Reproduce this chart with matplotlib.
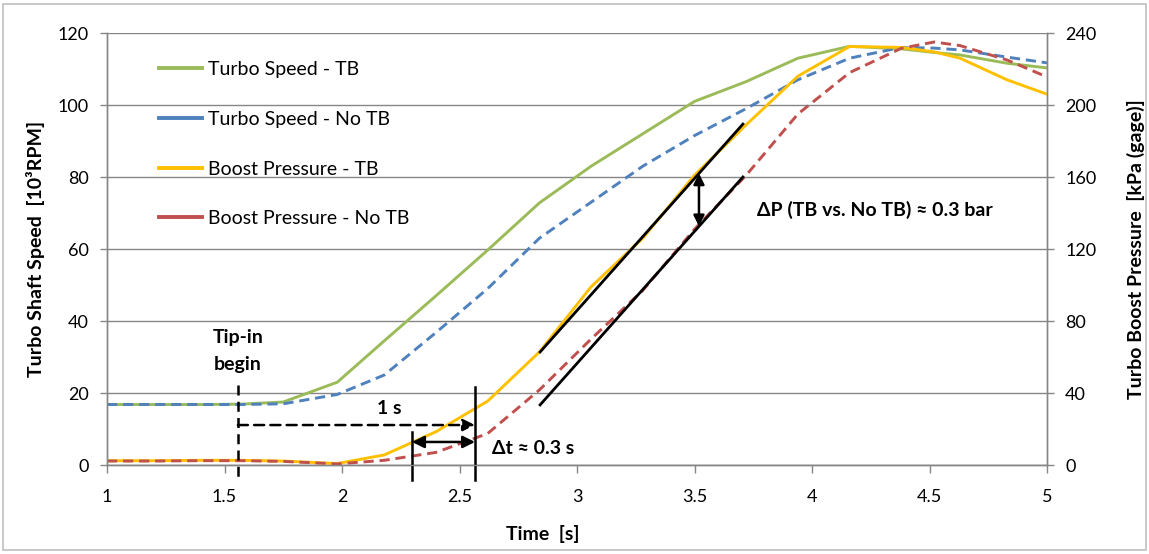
import matplotlib
matplotlib.use("Agg")
import matplotlib.pyplot as plt
from matplotlib.patches import Rectangle

plt.rcParams['font.family'] = ['Lato', 'DejaVu Sans']

# ---- data ----
time_s = [1.0, 1.2, 1.4, 1.57, 1.75, 1.98, 2.18, 2.4, 2.62, 2.84, 3.06, 3.28,
          3.5, 3.72, 3.94, 4.16, 4.38, 4.52, 4.63, 4.83, 5.0]
speed_tb = [16.8, 16.8, 16.8, 16.9, 17.5, 23.0, 34.5, 47.0, 59.7, 72.8, 83.0, 92.0,
            101.0, 106.5, 113.0, 116.3, 115.6, 114.6, 113.9, 111.6, 110.3]
speed_notb = [16.8, 16.8, 16.8, 16.8, 17.0, 19.6, 25.0, 36.8, 49.0, 63.0, 73.0, 83.0,
              91.5, 99.0, 107.0, 113.0, 116.0, 115.8, 115.3, 113.3, 111.7]
boost_tb = [2.4, 2.4, 2.6, 2.6, 2.2, 0.8, 5.6, 18.5, 35.5, 62.8, 99.0, 126.0,
            161.0, 189.0, 216.0, 232.5, 232.0, 229.5, 226.0, 214.0, 206.0]
boost_notb = [2.2, 2.2, 2.4, 2.4, 2.0, 0.6, 2.6, 7.0, 17.5, 41.7, 70.0, 97.0,
              131.0, 161.0, 195.0, 218.0, 231.5, 235.0, 233.0, 225.0, 215.6]

x_ticks = [1, 1.5, 2, 2.5, 3, 3.5, 4, 4.5, 5]
x_tick_labels = ['1', '1.5', '2', '2.5', '3', '3.5', '4', '4.5', '5']
left_ticks = [0, 20, 40, 60, 80, 100, 120]
right_ticks = [0, 40, 80, 120, 160, 200, 240]

GREEN = '#9BBB59'
BLUE = '#4F81BD'
YELLOW = '#FFC000'
RED = '#C0504D'
AXC = '#868686'

fig = plt.figure(figsize=(11.49, 5.54), dpi=100)
ax = fig.add_axes([107/1149, 1-465/554, 940/1149, 432/554])
ax2 = ax.twinx()

fig.patches.append(Rectangle((3/1149, 1-550/554), 1143/1149, 546/554,
                             transform=fig.transFigure, fill=False,
                             edgecolor='#BFBFBF', lw=1.2))

l1, = ax.plot(time_s, speed_tb, color=GREEN, lw=2.1, label='Turbo Speed - TB')
l2, = ax.plot(time_s, speed_notb, color=BLUE, lw=2.1, dashes=(3.5, 2),
              label='Turbo Speed - No TB')
l3, = ax2.plot(time_s, boost_tb, color=YELLOW, lw=2.1, label='Boost Pressure - TB')
l4, = ax2.plot(time_s, boost_notb, color=RED, lw=2.1, dashes=(3.5, 2),
               label='Boost Pressure - No TB')

ax.set_xlim(1, 5)
ax.set_ylim(0, 120)
ax2.set_ylim(0, 240)
ax.set_xticks(x_ticks)
ax.set_xticklabels(x_tick_labels)
ax.set_yticks(left_ticks)
ax2.set_yticks(right_ticks)

ax.yaxis.grid(True, color=AXC, lw=1)
ax.set_axisbelow(True)
for a in (ax, ax2):
    a.spines['top'].set_visible(False)
    for s in ('left', 'right', 'bottom'):
        a.spines[s].set_color(AXC)
        a.spines[s].set_linewidth(1)
    a.tick_params(axis='both', colors=AXC, labelcolor='black', labelsize=13,
                  length=5, width=1, direction='out')
ax.tick_params(axis='x', pad=11, length=6)
ax.tick_params(axis='y', pad=8)
ax2.tick_params(axis='y', pad=8)

ax.set_xlabel('Time  [s]', fontsize=14, fontweight='bold', labelpad=14)
ax.xaxis.set_label_coords(0.464, -0.14)
ax.set_ylabel('Turbo Shaft Speed  [10³RPM]', fontsize=14, fontweight='bold', labelpad=9)
ax2.set_ylabel('Turbo Boost Pressure  [kPa (gage)]', fontsize=14, fontweight='bold',
               labelpad=22)

leg = ax2.legend(handles=[l1, l2, l3, l4], loc='upper left',
                 bbox_to_anchor=(0.037, 0.975), frameon=False, fontsize=14,
                 handlelength=2.2, handletextpad=0.3, labelspacing=1.68)
for h in leg.get_lines():
    h.set_linestyle('-')
    h.set_linewidth(2.8)

# ---- annotations (right-axis kPa coordinates) ----
K = dict(color='black', clip_on=False)
ax2.text(1.557, 70.6, 'Tip-in', ha='center', va='center', fontsize=14, fontweight='bold')
ax2.text(1.557, 55.6, 'begin', ha='center', va='center', fontsize=14, fontweight='bold')
ax2.plot([1.557, 1.557], [44.4, -8.4], lw=1.8, dashes=(4, 2.5), **K)
ax2.annotate('', xy=(2.566, 22.2), xytext=(1.557, 22.2),
             arrowprops=dict(arrowstyle='-|>', color='black', lw=1.8,
                             linestyle=(0, (4, 2.5)), mutation_scale=18,
                             shrinkA=0, shrinkB=0))
ax2.text(2.2, 31.2, '1 s', ha='center', va='center', fontsize=14, fontweight='bold')
ax2.plot([2.566, 2.566], [43.4, -8.4], lw=1.8, **K)
ax2.plot([2.298, 2.298], [18.4, -8.4], lw=1.8, **K)
ax2.annotate('', xy=(2.566, 12.8), xytext=(2.298, 12.8),
             arrowprops=dict(arrowstyle='<|-|>', color='black', lw=1.8,
                             mutation_scale=18, shrinkA=0, shrinkB=0))
ax2.text(2.64, 9.4, 'Δt ≈ 0.3 s', ha='left', va='center', fontsize=14, fontweight='bold')

ax2.plot([2.843, 3.706], [62.8, 189.4], lw=2, **K)
ax2.plot([2.843, 3.706], [33.4, 160.0], lw=2, **K)
ax2.annotate('', xy=(3.519, 162.0), xytext=(3.519, 132.6),
             arrowprops=dict(arrowstyle='<|-|>', color='black', lw=1.8,
                             mutation_scale=16, shrinkA=0, shrinkB=0))
ax2.text(3.766, 141.6, 'ΔP (TB vs. No TB) ≈ 0.3 bar', ha='left', va='center',
         fontsize=14, fontweight='bold')

fig.savefig('out.png', dpi=100)
